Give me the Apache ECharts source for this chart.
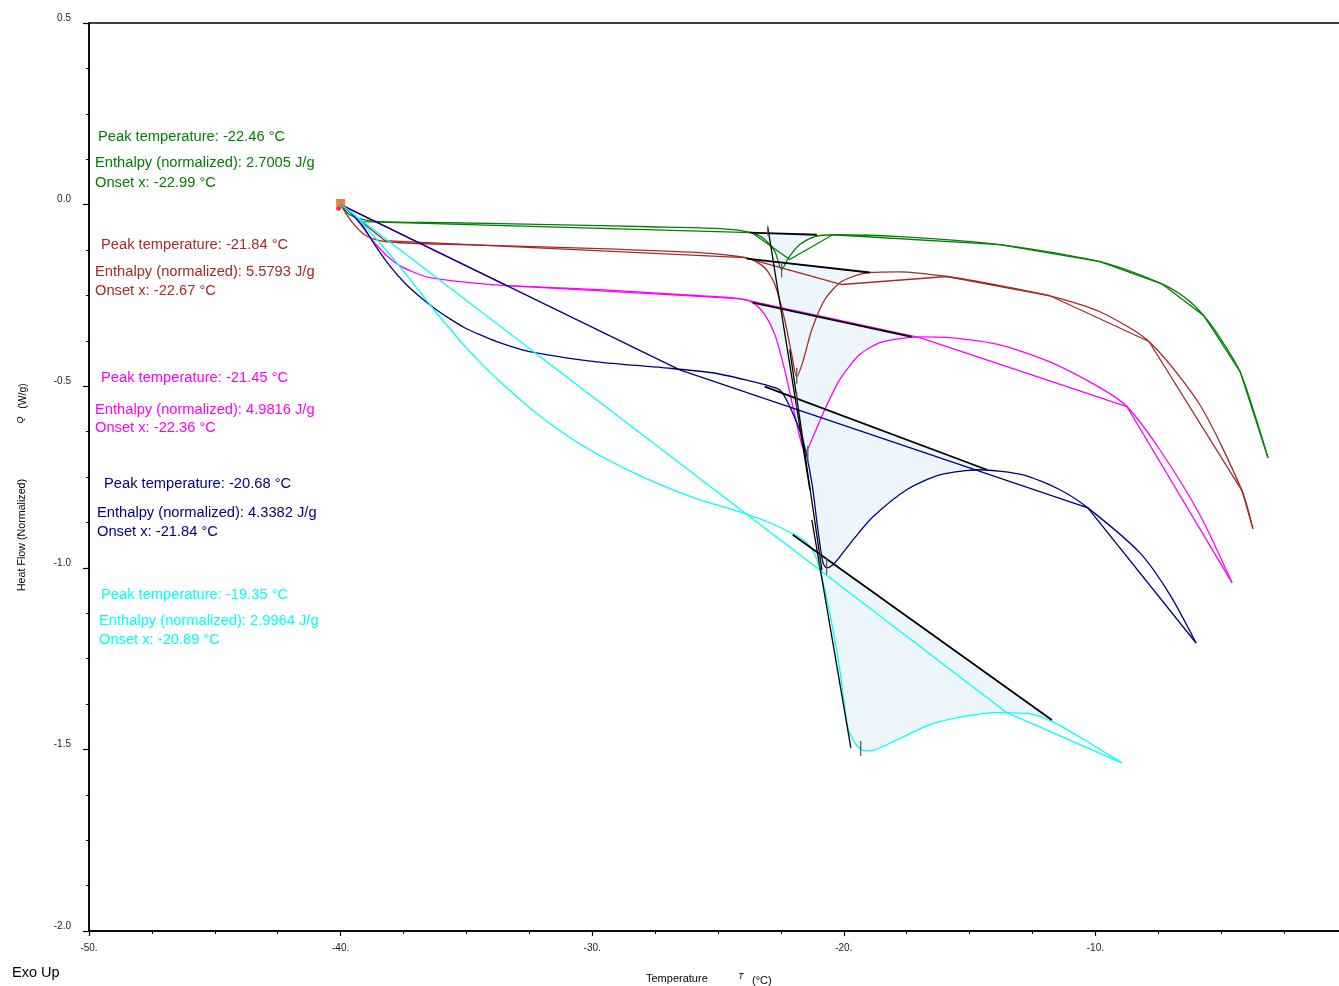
<!DOCTYPE html>
<html><head><meta charset="utf-8">
<script src="https://cdn.jsdelivr.net/npm/echarts@6/dist/echarts.min.js"></script>
<style>html,body{margin:0;padding:0;background:#fff}#c{width:1339px;height:986px}</style>
</head><body><div id="c"></div>
<script>
// ---- data (x = Temperature °C, y = Heat Flow W/g) ----
const greenCurve = [[-40.0,0.0],[-39.64,-0.028],[-39.13,-0.041],[-38.45,-0.047],[-35.67,-0.050],[-31.69,-0.055],[-27.71,-0.061],[-24.93,-0.066],[-23.66,-0.077],[-23.14,-0.096],[-22.74,-0.129],[-22.47,-0.179],[-22.19,-0.146],[-21.75,-0.110],[-21.15,-0.088],[-20.44,-0.083],[-17.77,-0.088],[-13.80,-0.110],[-9.82,-0.157],[-7.36,-0.218],[-6.44,-0.256],[-5.69,-0.306],[-4.97,-0.375],[-4.25,-0.460],[-3.66,-0.579],[-3.14,-0.697]];
const greenPoly = [[-40.0,0.0],[-39.13,-0.047],[-23.66,-0.077],[-22.15,-0.151],[-20.44,-0.083],[-13.80,-0.110],[-9.82,-0.157],[-7.36,-0.218],[-5.69,-0.306],[-4.25,-0.460],[-3.14,-0.697]];

const brownCurve = [[-40,0],[-39.56,-0.047],[-39.05,-0.083],[-38.45,-0.099],[-37.65,-0.105],[-33.68,-0.113],[-29.70,-0.121],[-25.73,-0.132],[-24.53,-0.140],[-23.74,-0.149],[-23.14,-0.174],[-22.74,-0.220],[-22.35,-0.317],[-22.07,-0.413],[-21.87,-0.474],[-21.63,-0.433],[-21.27,-0.344],[-20.76,-0.262],[-20.16,-0.215],[-19.56,-0.196],[-18.97,-0.187],[-17.77,-0.185],[-15.90,-0.198],[-13.80,-0.223],[-11.81,-0.251],[-9.82,-0.295],[-7.87,-0.377],[-5.85,-0.551],[-4.17,-0.788],[-3.74,-0.893]];
const brownPoly = [[-40,0],[-38.25,-0.099],[-23.94,-0.146],[-20.08,-0.220],[-15.90,-0.198],[-11.81,-0.251],[-7.87,-0.377],[-4.17,-0.788],[-3.74,-0.893]];

const magentaCurve = [[-40,0],[-39.56,-0.025],[-39.13,-0.061],[-38.65,-0.105],[-38.17,-0.140],[-37.65,-0.168],[-37.06,-0.187],[-36.46,-0.201],[-34.87,-0.215],[-33.40,-0.223],[-29.70,-0.234],[-25.73,-0.251],[-24.14,-0.259],[-23.62,-0.270],[-23.14,-0.303],[-22.74,-0.358],[-22.35,-0.455],[-21.95,-0.579],[-21.67,-0.661],[-21.51,-0.680],[-21.27,-0.647],[-20.76,-0.565],[-20.16,-0.482],[-19.37,-0.413],[-18.57,-0.380],[-17.77,-0.369],[-16.98,-0.364],[-15.79,-0.366],[-13.80,-0.386],[-11.81,-0.433],[-9.82,-0.504],[-8.75,-0.556],[-7.44,-0.675],[-5.85,-0.854],[-4.57,-1.041]];
const magentaPoly = [[-40,0],[-33.40,-0.223],[-24.14,-0.259],[-16.98,-0.366],[-8.75,-0.556],[-4.57,-1.041]];

const navyCurve = [[-40,0],[-39.56,-0.025],[-39.13,-0.058],[-38.65,-0.110],[-38.05,-0.168],[-37.46,-0.215],[-36.86,-0.253],[-36.26,-0.286],[-35.67,-0.314],[-35.07,-0.339],[-34.47,-0.358],[-33.80,-0.377],[-32.49,-0.405],[-29.82,-0.433],[-27.20,-0.449],[-25.21,-0.463],[-23.94,-0.482],[-23.14,-0.496],[-22.55,-0.510],[-22.15,-0.556],[-21.63,-0.647],[-21.27,-0.766],[-21.03,-0.895],[-20.83,-0.986],[-20.68,-1.000],[-20.44,-0.992],[-20.16,-0.970],[-19.56,-0.917],[-18.85,-0.860],[-17.50,-0.785],[-16.18,-0.744],[-14.59,-0.730],[-12.88,-0.744],[-11.41,-0.785],[-10.30,-0.835],[-8.23,-0.959],[-7.04,-1.074],[-6.00,-1.207]];
const navyPoly = [[-40,0],[-26.52,-0.455],[-10.30,-0.835],[-6.00,-1.207]];

const cyanCurve = [[-40,0],[-39.56,-0.022],[-39.13,-0.052],[-38.45,-0.105],[-37.77,-0.160],[-37.14,-0.215],[-36.46,-0.275],[-35.79,-0.331],[-35.15,-0.383],[-34.47,-0.433],[-33.80,-0.479],[-32.49,-0.559],[-31.17,-0.628],[-29.82,-0.686],[-28.51,-0.733],[-27.20,-0.774],[-25.84,-0.810],[-24.14,-0.846],[-22.94,-0.876],[-21.95,-0.909],[-21.47,-0.931],[-21.15,-0.964],[-20.95,-1.006],[-20.56,-1.124],[-20.16,-1.281],[-19.84,-1.438],[-19.56,-1.482],[-19.29,-1.501],[-18.97,-1.504],[-17.89,-1.474],[-16.58,-1.432],[-15.27,-1.410],[-13.92,-1.399],[-12.60,-1.402],[-11.69,-1.424],[-10.62,-1.466],[-8.95,-1.537]];
const cyanPoly = [[-40,0],[-13.52,-1.399],[-8.95,-1.537]];

// integration baselines [x1,y1,x2,y2]
const peakBaselines = [[-23.74,-0.077,-21.07,-0.083],[-23.86,-0.149,-18.97,-0.187],[-23.62,-0.270,-17.30,-0.364],[-23.14,-0.501,-14.31,-0.730],[-22.03,-0.909,-11.73,-1.419]];
// onset tangent lines
const tangentLines = [[-23.02,-0.063,-21.35,-0.785],[-22.15,-0.399,-20.87,-1.006],[-21.27,-0.868,-19.72,-1.496]];
// peak / onset markers
const markerTicks = [[-23.02,-0.058,-23.02,-0.085],[-22.47,-0.163,-22.47,-0.201],[-21.87,-0.449,-21.87,-0.493],[-21.87,-0.515,-21.87,-0.559],[-21.43,-0.664,-21.43,-0.705],[-20.95,-0.945,-20.95,-0.995],[-20.68,-0.973,-20.68,-1.019],[-19.33,-1.477,-19.33,-1.518]];
const startSquare = [[-40.0,0.006]];
const startDot = [[-40.08,-0.010]];

const seriesColors = ['#008000','#A52A2A','#FF00FF','#000080','#00FFFF'];
const peakTemps = ['-22.46','-21.84','-21.45','-20.68','-19.35'];
const enthalpies = ['2.7005','5.5793','4.9816','4.3382','2.9964'];
const onsets = ['-22.99','-22.67','-22.36','-21.84','-20.89'];

const xTicks = {min:-50, max:0, interval:10};
const yTicks = {min:-2.0, max:0.5, interval:0.5};

// ---- build ----
const curves = [greenCurve, brownCurve, magentaCurve, navyCurve, cyanCurve];
const polys = [greenPoly, brownPoly, magentaPoly, navyPoly, cyanPoly];
const FONT = '"Liberation Sans", Arial, sans-serif';

const series = [];
peakBaselines.forEach((b, i) => {
  const pts = [[b[0], b[1]]].concat(curves[i].filter(p => p[0] > b[0] && p[0] < b[2])).concat([[b[2], b[3]]]);
  series.push({
    type: 'custom', z: 1, silent: true, data: pts, encode: {x: 0, y: 1},
    renderItem: (params, api) => {
      if (params.dataIndex !== 0) return null;
      return {type: 'polygon', shape: {points: pts.map(p => api.coord(p)), smooth: 0.2}, style: {fill: '#EDF5FD', stroke: null}};
    }
  });
});
curves.forEach((c, i) => {
  series.push({type: 'line', data: c, z: 3, symbol: 'none', smooth: 0.25, lineStyle: {color: seriesColors[i], width: 1.3}});
  series.push({type: 'line', data: polys[i], z: 3, symbol: 'none', smooth: false, lineStyle: {color: seriesColors[i], width: 1.3}});
});
function segSeries(data, color, width, z) {
  return {
    type: 'custom', z, silent: true, data, encode: {x: [0, 2], y: [1, 3]},
    renderItem: (params, api) => {
      const a = api.coord([api.value(0), api.value(1)]);
      const b = api.coord([api.value(2), api.value(3)]);
      return {type: 'line', shape: {x1: a[0], y1: a[1], x2: b[0], y2: b[1]}, style: {stroke: color, lineWidth: width}};
    }
  };
}
series.push(segSeries(peakBaselines, '#000', 1.8, 5));
series.push(segSeries(tangentLines, '#000', 1.3, 5));
series.push(segSeries(markerTicks, '#555', 1.2, 6));
series.push({type: 'scatter', data: startSquare, symbol: 'rect', symbolSize: [9, 7], itemStyle: {color: '#D2691E'}, z: 7});
series.push({type: 'scatter', data: startDot, symbol: 'circle', symbolSize: 5, itemStyle: {color: '#FF0000'}, z: 6});

const graphics = [];
const blockPos = [
  [[98,137],[95,163],[95,183]],
  [[101,245],[95,272],[95,291]],
  [[101,378],[95,410],[95,428]],
  [[104,484],[97,513],[97,532]],
  [[101,595],[99,621],[99,640]]
];
function txt(text, x, y, color, font) {
  return {type: 'text', x, y, silent: true, style: {text, fill: color, font, align: 'left', verticalAlign: 'middle'}};
}
blockPos.forEach((bp, i) => {
  const col = seriesColors[i];
  graphics.push(txt('Peak temperature: ' + peakTemps[i] + ' °C', bp[0][0], bp[0][1], col, '14.7px ' + FONT));
  graphics.push(txt('Enthalpy (normalized): ' + enthalpies[i] + ' J/g', bp[1][0], bp[1][1], col, '14.7px ' + FONT));
  graphics.push(txt('Onset x: ' + onsets[i] + ' °C', bp[2][0], bp[2][1], col, '14.7px ' + FONT));
});
graphics.push(txt('Exo Up', 12, 973, '#000', '14.5px ' + FONT));
graphics.push(txt('Temperature', 646, 979, '#000', '11px ' + FONT));
graphics.push(txt('T', 738, 976, '#000', 'italic 9px ' + FONT));
graphics.push(txt('(°C)', 752, 981, '#000', '11px ' + FONT));
graphics.push({type: 'text', x: 22, y: 535, rotation: Math.PI / 2, silent: true, style: {text: 'Heat Flow (Normalized)', fill: '#000', font: '10.7px ' + FONT, align: 'center', verticalAlign: 'middle'}});
graphics.push({type: 'text', x: 23, y: 396, rotation: Math.PI / 2, silent: true, style: {text: '(W/g)', fill: '#000', font: '10.5px ' + FONT, align: 'center', verticalAlign: 'middle'}});
graphics.push({type: 'text', x: 20, y: 420, rotation: Math.PI / 2, silent: true, style: {text: 'Q', fill: '#000', font: 'italic 9px ' + FONT, align: 'center', verticalAlign: 'middle'}});

const chart = echarts.init(document.getElementById('c'), null, {renderer: 'canvas'});
chart.setOption({
  animation: false,
  backgroundColor: '#fff',
  grid: {left: 89, top: 23, width: 1258, height: 908, containLabel: false, outerBoundsMode: 'none', show: true, borderColor: '#000', borderWidth: 1.5, backgroundColor: 'transparent'},
  xAxis: {
    type: 'value', min: xTicks.min, max: xTicks.max, interval: xTicks.interval,
    axisLine: {onZero: false, lineStyle: {color: '#000', width: 1.5}},
    axisTick: {show: true, inside: false, length: 5, lineStyle: {color: '#000', width: 1.2}},
    minorTick: {show: true, splitNumber: 4, length: 3, lineStyle: {color: '#000', width: 1}},
    splitLine: {show: false},
    axisLabel: {margin: 12, fontSize: 10, color: '#222', fontFamily: FONT, formatter: v => v + '.'}
  },
  yAxis: {
    type: 'value', min: yTicks.min, max: yTicks.max, interval: yTicks.interval,
    axisLine: {onZero: false, lineStyle: {color: '#000', width: 1.5}},
    axisTick: {show: true, inside: false, length: 6, lineStyle: {color: '#000', width: 1.2}},
    minorTick: {show: true, splitNumber: 4, length: 3, lineStyle: {color: '#000', width: 1}},
    splitLine: {show: false},
    axisLabel: {margin: 18, fontSize: 10, color: '#222', fontFamily: FONT, verticalAlign: 'bottom', lineHeight: 10, formatter: v => v.toFixed(1)}
  },
  series,
  graphic: graphics
});
</script>
</body></html>
